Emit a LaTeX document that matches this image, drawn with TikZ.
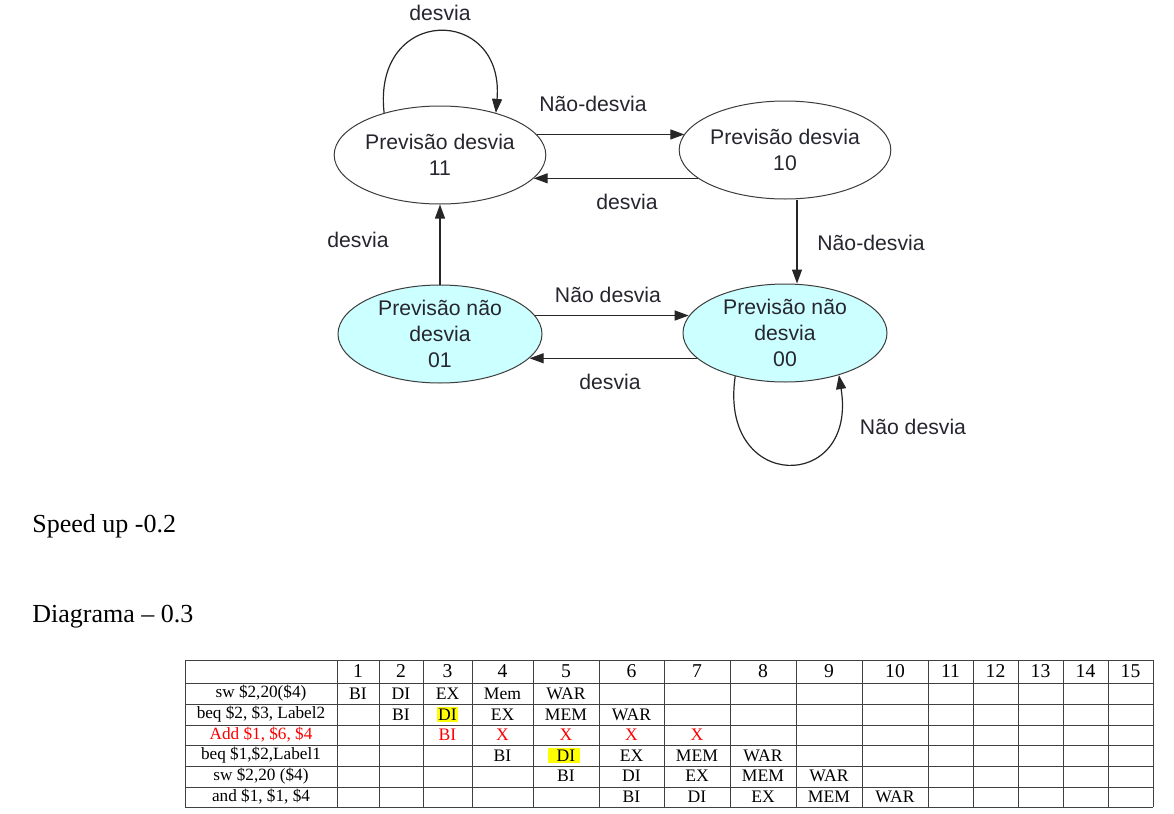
\documentclass[tikz,border=0pt]{standalone}
\usepackage{fontspec}
\setmainfont{Liberation Serif}
\setsansfont{Liberation Sans}
\usetikzlibrary{arrows.meta,shapes.geometric}
\definecolor{statefill}{HTML}{CCFFFF}
\definecolor{stateline}{HTML}{3C3C3C}
\definecolor{statetext}{HTML}{26262E}
\definecolor{gridcol}{HTML}{404040}
\definecolor{hilite}{HTML}{FFFF00}
\definecolor{squash}{HTML}{FF0000}

\begin{document}
\begin{tikzpicture}[
  x=0.5pt, y=-0.5pt,
  font=\sffamily\fontsize{10.6}{13}\selectfont,
  state/.style={
    ellipse, draw=stateline, line width=0.5pt, fill=white,
    inner sep=0pt, minimum width=102pt, minimum height=49pt, align=center, text=statetext,
  },
  ntstate/.style={state, fill=statefill},
  arrow/.style={-{Triangle[length=7pt,width=5pt]}, line width=0.6pt, draw=black!85},
  edgelabel/.style={text=statetext, inner sep=0pt},
  bigtext/.style={font=\rmfamily\fontsize{13}{15}\selectfont, anchor=base west, inner sep=0pt},
  gridln/.style={draw=gridcol, line width=0.5pt},
  head/.style={font=\rmfamily\fontsize{9.8}{11}\selectfont, inner sep=0pt},
  cell/.style={font=\rmfamily\fontsize{8.8}{10}\selectfont, inner sep=0pt},
  instr/.style={font=\rmfamily\fontsize{8.6}{10}\selectfont, inner sep=0pt},
  hl/.style={fill=hilite, inner xsep=0.6pt, inner ysep=1pt}
]
\path[fill=white, use as bounding box] (0,0) rectangle (1174,814);

% States of the 2-bit predictor
\node[state] (s11) at (440,155) {Previsão desvia\\11};
\node[state] (s10) at (785,150) {Previsão desvia\\10};
\node[ntstate] (s01) at (440,334) {Previsão não\\desvia\\01};
\node[ntstate] (s00) at (785,333) {Previsão não\\desvia\\00};

% Horizontal transitions
\draw[arrow] (s11.12) -- (s11.12 -| s10.171);
\draw[arrow] (s10.198) -- (s10.198 -| s11.346);
\draw[arrow] (s01.11) -- (s01.11 -| s00.170);
\draw[arrow] (s00.196) -- (s00.196 -| s01.345);

% Vertical transitions
\draw[arrow] (s01.north) -- (s11.south);
\draw[arrow] ([xshift=6pt]s10.south) -- ([xshift=6pt]s00.north);

% Self loops
\draw[arrow] (s11.143) .. controls (372,5) and (505,5) .. (s11.37);
\draw[arrow] (s00.221) .. controls (718,493) and (858,493) .. (s00.322);

% Transition labels
\node[edgelabel] (l11) at (440,13) {desvia};
\node[edgelabel] (l1110) at (593,104) {Não-desvia};
\node[edgelabel] (l1011) at (627,202) {desvia};
\node[edgelabel] (l0111) at (358,240) {desvia};
\node[edgelabel] (l1000) at (871,243) {Não-desvia};
\node[edgelabel] (l0100) at (608,295) {Não desvia};
\node[edgelabel] (l0001) at (610,382) {desvia};
\node[edgelabel] (l00) at (913,427) {Não desvia};

% Scores
\node[bigtext] (speedup) at (32,532) {Speed up -0.2};
\node[bigtext] (diagrama) at (32,622) {Diagrama -- 0.3};

% Pipeline table: grid
\foreach \y in {660,683,704,725,745,766,787,807}
  \draw[gridln] (185,\y) -- (1153,\y);
\foreach \x in {185,337,379,423,472,533,599,664,730,796,862,928,973,1018,1063,1108,1153}
  \draw[gridln] (\x,660) -- (\x,807);

\foreach \c/\x in {1/358,2/401,3/447.5,4/502.5,5/566,6/631.5,7/697,8/763,
                   9/829,10/895,11/950.5,12/995.5,13/1040.5,14/1085.5,15/1130.5}
  \coordinate (col\c) at (\x,0);
\foreach \r/\y in {0/671.5,1/693.5,2/714.5,3/735,4/755.5,5/776,6/796.5}
  \coordinate (row\r) at (261,\y);

% header
\foreach \c in {1,...,15}
  \node[head] (h\c) at (col\c |- row0) {\c};

% instructions
\node[instr] (i1) at (row1) {sw \$2,20(\$4)};
\node[instr] (i2) at (row2) {beq \$2, \$3, Label2};
\node[instr, text=squash] (i3) at (row3) {Add \$1, \$6, \$4};
\node[instr] (i4) at (row4) {beq \$1,\$2,Label1};
\node[instr] (i5) at (row5) {sw \$2,20 (\$4)};
\node[instr] (i6) at (row6) {and \$1, \$1, \$4};

% stages
\foreach \c/\t in {1/BI,2/DI,3/EX,4/Mem,5/WAR}
  \node[cell] (a\c) at (col\c |- row1) {\t};
\foreach \c/\t in {2/BI,4/EX,5/MEM,6/WAR}
  \node[cell] (b\c) at (col\c |- row2) {\t};
\node[cell, hl] (b3) at (col3 |- row2) {DI};
\foreach \c/\t in {3/BI,4/X,5/X,6/X,7/X}
  \node[cell, text=squash] (x\c) at (col\c |- row3) {\t};
\foreach \c/\t in {4/BI,6/EX,7/MEM,8/WAR}
  \node[cell] (d\c) at (col\c |- row4) {\t};
\node[cell, hl, inner xsep=2.5pt, xshift=-1pt] (d5) at (col5 |- row4) {\hspace{2pt}DI};
\foreach \c/\t in {5/BI,6/DI,7/EX,8/MEM,9/WAR}
  \node[cell] (e\c) at (col\c |- row5) {\t};
\foreach \c/\t in {6/BI,7/DI,8/EX,9/MEM,10/WAR}
  \node[cell] (f\c) at (col\c |- row6) {\t};

\end{tikzpicture}
\end{document}
